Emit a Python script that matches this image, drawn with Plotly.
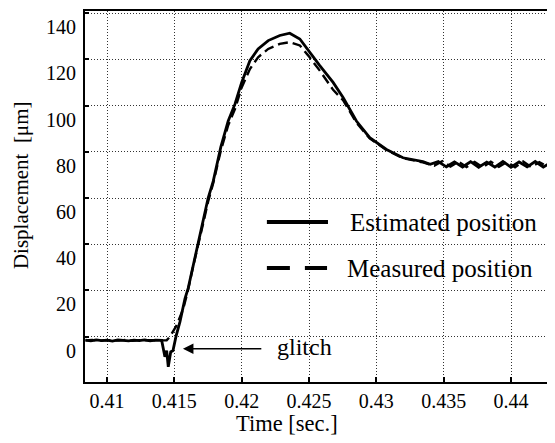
import plotly.graph_objects as go

# ---- data ----
t_est = [0.4084, 0.4088, 0.4092, 0.4096, 0.4100, 0.4104, 0.4108, 0.4112, 0.4116, 0.4120,
         0.4124, 0.4128, 0.4132, 0.4136, 0.41406, 0.41430, 0.41443, 0.41455, 0.41473, 0.41490,
         0.41512, 0.41542, 0.41579, 0.41603, 0.41640, 0.41677, 0.41714, 0.41751, 0.41789, 0.41845,
         0.41900, 0.41950, 0.42000, 0.42061, 0.42122, 0.42197, 0.42283, 0.42357, 0.42432, 0.42506,
         0.42580, 0.42679, 0.42753, 0.42852, 0.42951, 0.43075, 0.43198, 0.43346, 0.4340, 0.4346,
         0.4352, 0.4358, 0.4364, 0.4370, 0.4376, 0.4382, 0.4388, 0.4394, 0.4400, 0.4406,
         0.4412, 0.4418, 0.4424, 0.4430, 0.4434]
y_est = [-1.5, -1.8, -1.4, -1.7, -1.5, -1.9, -1.4, -1.6, -1.8, -1.5,
         -1.7, -1.4, -1.8, -1.5, -1.6, -8.7, -6.0, -13.0, -6.6, -6.0,
         0.0, 6.5, 16.5, 21.0, 31.0, 39.7, 50.0, 60.0, 67.3, 82.0,
         93.3, 100.6, 110.0, 119.4, 124.5, 128.1, 130.3, 131.3, 128.8, 123.0,
         117.3, 110.0, 103.5, 93.3, 86.1, 81.0, 77.4, 75.7, 74.6, 75.8,
         73.5, 75.6, 73.4, 75.7, 73.3, 75.5, 73.4, 75.8, 73.3, 75.6,
         73.5, 75.8, 73.4, 75.4, 74.2]

t_mea = [0.4084, 0.4089, 0.4094, 0.4099, 0.4104, 0.4109, 0.4114, 0.4119, 0.4124, 0.4129,
         0.4134, 0.4139, 0.41443, 0.41467, 0.41517, 0.41566, 0.41603, 0.41640, 0.41677, 0.41714,
         0.41751, 0.41789, 0.41845, 0.41900, 0.41950, 0.42000, 0.42061, 0.42122, 0.42197, 0.42283,
         0.42357, 0.42432, 0.42495, 0.42580, 0.42679, 0.42753, 0.42852, 0.42951, 0.43075, 0.43198,
         0.43346, 0.4343, 0.4349, 0.4355, 0.4361, 0.4367, 0.4373, 0.4379, 0.4385, 0.4391,
         0.4397, 0.4403, 0.4409, 0.4415, 0.4421, 0.4427, 0.4433]
y_mea = [-1.6, -1.4, -1.8, -1.5, -1.6, -1.7, -1.4, -1.8, -1.5, -1.6,
         -1.7, -1.5, -1.6, 0.0, 4.9, 12.0, 20.5, 30.5, 39.2, 49.0,
         58.5, 66.5, 80.5, 91.5, 98.5, 107.8, 115.8, 120.9, 124.5, 126.7,
         127.4, 126.0, 121.6, 115.1, 106.8, 102.3, 92.6, 85.8, 80.8, 77.2,
         75.4, 74.0, 75.9, 73.6, 75.7, 73.4, 75.6, 73.3, 75.7, 73.5,
         75.6, 73.3, 75.8, 73.4, 75.5, 73.6, 75.2]

x_ticks = [0.41, 0.415, 0.42, 0.425, 0.43, 0.435, 0.44]
x_ticktext = ["0.41", "0.415", "0.42", "0.425", "0.43", "0.435", "0.44"]
y_ticks = [0, 20, 40, 60, 80, 100, 120, 140]

x_title = "Time [sec.]"
y_title = "Displacement\u00a0\u00a0[\u03bcm]"
legend_names = ["Estimated position", "Measured position"]
glitch_label = "glitch"
glitch_tip = (0.41564, -5.2)
glitch_tail = (0.42157, -5.2)

SERIF = "Liberation Serif, Times New Roman, serif"

fig = go.Figure()
fig.add_trace(go.Scatter(x=t_est, y=y_est, mode="lines", name=legend_names[0],
                         line=dict(color="black", width=2.8), showlegend=False))
fig.add_trace(go.Scatter(x=t_mea, y=y_mea, mode="lines", name=legend_names[1],
                         line=dict(color="black", width=2.4, dash="10px,5px"), showlegend=False))

grid = dict(showgrid=True, gridcolor="#333", gridwidth=1, griddash="1px,2px")

# the page body adds an 8px offset, so the figure is 8px smaller than the window
fig.update_layout(
    template="none",
    width=547, height=435,
    margin=dict(l=77, r=0, t=3, b=61),
    paper_bgcolor="white", plot_bgcolor="white",
    font=dict(family=SERIF, color="black", size=20),
    xaxis=dict(range=[0.408366, 0.443267], tickvals=x_ticks, ticktext=x_ticktext,
               ticks="inside", ticklen=5, tickcolor="black", tickwidth=1.5,
               showline=True, linecolor="black", linewidth=2, mirror=True,
               zeroline=False, ticklabelstandoff=0, automargin=False,
               tickfont=dict(size=20, family=SERIF), **grid),
    yaxis=dict(range=[-19.6, 140.9], tickvals=y_ticks,
               zeroline=False, showline=True, linecolor="black", linewidth=2,
               ticks="inside", ticklen=4, tickcolor="black", tickwidth=1.5,
               ticklabelstandoff=3, ticklabelshift=14, automargin=False,
               tickfont=dict(size=20, family=SERIF), **grid),
)

# axis titles
fig.add_annotation(text=x_title, xref="paper", yref="paper", x=0.43, y=-0.113,
                   xanchor="center", yanchor="middle", showarrow=False,
                   font=dict(size=22.5, family=SERIF, color="black"))
fig.add_annotation(text=y_title, xref="paper", yref="paper", x=-0.136, y=0.531, textangle=-90,
                   xanchor="center", yanchor="middle", showarrow=False,
                   font=dict(size=21, family=SERIF, color="black"))

# legend samples
fig.add_shape(type="line", xref="paper", yref="paper", x0=0.387, x1=0.517, y0=0.431, y1=0.431,
              line=dict(color="black", width=4))
fig.add_shape(type="line", xref="paper", yref="paper", x0=0.387, x1=0.515, y0=0.307, y1=0.307,
              line=dict(color="black", width=4, dash="23px,15px"))
fig.add_annotation(text=legend_names[0], xref="paper", yref="paper", x=0.560, y=0.431,
                   xanchor="left", yanchor="middle", showarrow=False,
                   font=dict(size=25, family=SERIF, color="black"))
fig.add_annotation(text=legend_names[1], xref="paper", yref="paper", x=0.553, y=0.307,
                   xanchor="left", yanchor="middle", showarrow=False,
                   font=dict(size=25, family=SERIF, color="black"))

# glitch arrow + label
fig.add_annotation(x=glitch_tip[0], y=glitch_tip[1], ax=glitch_tail[0], ay=glitch_tail[1],
                   xref="x", yref="y", axref="x", ayref="y", text="", showarrow=True,
                   arrowhead=2, arrowsize=1.4, arrowwidth=1.5, arrowcolor="black")
fig.add_annotation(text=glitch_label, xref="paper", yref="paper", x=0.405, y=0.094,
                   xanchor="left", yanchor="middle", showarrow=False,
                   font=dict(size=24, family=SERIF, color="black"))

fig.write_html("out.html")
